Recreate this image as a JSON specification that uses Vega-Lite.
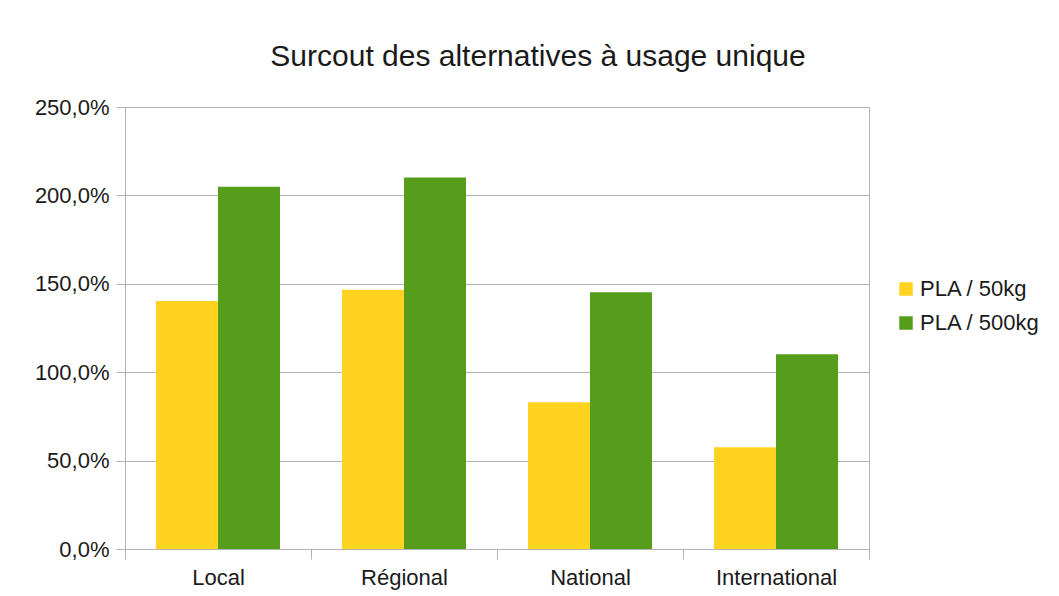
{
  "$schema": "https://vega.github.io/schema/vega-lite/v6.json",
  "width": 744,
  "height": 442,
  "autosize": {"type": "none"},
  "padding": {"left": 125, "top": 107, "right": 190, "bottom": 47},
  "background": "#ffffff",
  "title": {
    "text": "Surcout des alternatives à usage unique",
    "font": "Liberation Sans",
    "fontSize": 30,
    "fontWeight": "normal",
    "color": "#1a1a1a",
    "anchor": "middle",
    "frame": "group",
    "dx": 41,
    "baseline": "alphabetic",
    "offset": 0
  },
  "config": {
    "font": "Liberation Sans",
    "view": {"stroke": "#b3b3b3", "strokeWidth": 1},
    "axis": {
      "labelFont": "Liberation Sans",
      "labelFontSize": 22,
      "labelColor": "#1a1a1a",
      "domainColor": "#b3b3b3",
      "tickColor": "#b3b3b3",
      "gridColor": "#b3b3b3",
      "gridOpacity": 1,
      "title": null
    },
    "legend": {
      "labelFont": "Liberation Sans",
      "labelFontSize": 22,
      "labelColor": "#1a1a1a"
    }
  },
  "data": {
    "values": [
      {"cat": "Local", "serie": "PLA / 50kg", "v": 140.3},
      {"cat": "Local", "serie": "PLA / 500kg", "v": 204.9},
      {"cat": "Régional", "serie": "PLA / 50kg", "v": 146.7},
      {"cat": "Régional", "serie": "PLA / 500kg", "v": 210.1},
      {"cat": "National", "serie": "PLA / 50kg", "v": 83.0},
      {"cat": "National", "serie": "PLA / 500kg", "v": 145.2},
      {"cat": "International", "serie": "PLA / 50kg", "v": 57.5},
      {"cat": "International", "serie": "PLA / 500kg", "v": 110.1}
    ]
  },
  "mark": {"type": "bar"},
  "encoding": {
    "x": {
      "field": "cat",
      "type": "nominal",
      "sort": ["Local", "Régional", "National", "International"],
      "scale": {"paddingInner": 0, "paddingOuter": 0},
      "axis": {
        "labelAngle": 0,
        "tickBand": "extent",
        "tickSize": 10,
        "labelPadding": 8,
        "grid": false
      }
    },
    "xOffset": {
      "field": "serie",
      "type": "nominal",
      "sort": ["PLA / 50kg", "PLA / 500kg"],
      "scale": {"paddingInner": 0, "paddingOuter": 0.5}
    },
    "y": {
      "field": "v",
      "type": "quantitative",
      "scale": {"domain": [0, 250], "nice": false},
      "axis": {
        "values": [0, 50, 100, 150, 200, 250],
        "labelExpr": "replace(format(datum.value, '.1f'), '.', ',') + '%'",
        "tickSize": 9,
        "labelPadding": 7,
        "grid": true
      }
    },
    "color": {
      "field": "serie",
      "type": "nominal",
      "sort": ["PLA / 50kg", "PLA / 500kg"],
      "scale": {"domain": ["PLA / 50kg", "PLA / 500kg"], "range": ["#ffd320", "#579d1c"]},
      "legend": {
        "title": null,
        "orient": "none",
        "legendX": 770,
        "legendY": 171,
        "padding": 0,
        "symbolType": "square",
        "symbolSize": 182,
        "symbolStrokeWidth": 0,
        "symbolOpacity": 1,
        "labelOffset": 3,
        "rowPadding": 12
      }
    }
  }
}
